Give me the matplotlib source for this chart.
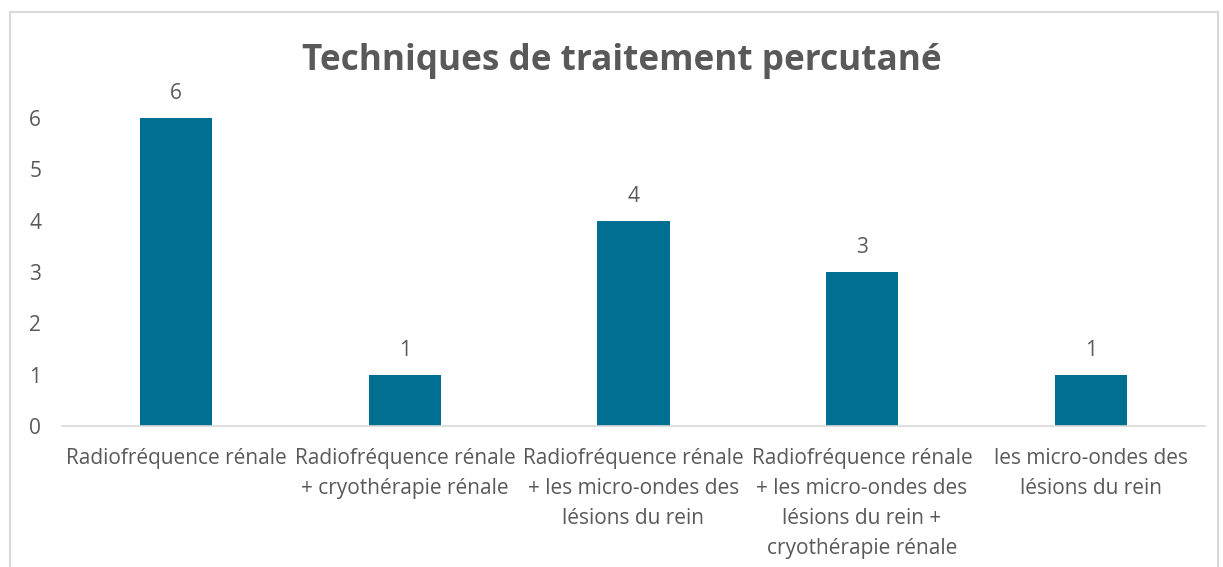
import matplotlib.pyplot as plt
from matplotlib.patches import Rectangle

categories = [
    "Radiofréquence rénale",
    "Radiofréquence rénale\n+ cryothérapie rénale",
    "Radiofréquence rénale\n+ les micro-ondes des\nlésions du rein",
    "Radiofréquence rénale\n+ les micro-ondes des\nlésions du rein +\ncryothérapie rénale",
    "les micro-ondes des\nlésions du rein",
]
values = [6, 1, 4, 3, 1]
yticks = [0, 1, 2, 3, 4, 5, 6]

plt.rcParams['font.family'] = ['Open Sans', 'DejaVu Sans']
grey = "#595959"

fig = plt.figure(figsize=(12.23, 5.67), dpi=100)
# outer chart border
fig.patches.append(Rectangle((10 / 1223, -0.05), 1208 / 1223, 1 - 12 / 567 + 0.05,
                             transform=fig.transFigure, fill=False,
                             edgecolor="#D9D9D9", linewidth=1.5))

ax = fig.add_axes([62 / 1223, 1 - 426 / 567, (1205 - 62) / 1223, (426 - 118) / 567])
x = list(range(len(categories)))
bars = ax.bar(x, values, width=0.315, color="#006F91")
ax.set_xlim(-0.5, len(categories) - 0.5)
ax.set_ylim(0, 6)
ax.set_yticks(yticks)
ax.set_xticks(x)
ax.set_xticklabels(categories, fontsize=15, color=grey, linespacing=1.55)
ax.tick_params(axis="y", labelsize=15, colors=grey, length=0, pad=15)
ax.tick_params(axis="x", length=0, pad=16)
for s in ["top", "right", "left"]:
    ax.spines[s].set_visible(False)
ax.spines["bottom"].set_color("#D9D9D9")
ax.spines["bottom"].set_linewidth(1.2)

for b, v in zip(bars, values):
    ax.annotate(str(v), (b.get_x() + b.get_width() / 2, v), xytext=(0, 10),
                textcoords="offset points", ha="center", va="bottom",
                fontsize=15, color=grey)

fig.text(622 / 1223, 1 - 61 / 567, "Techniques de traitement percutané",
         ha="center", va="center", fontsize=25.3, fontweight="bold", color=grey)

fig.savefig("out.png", dpi=100)
